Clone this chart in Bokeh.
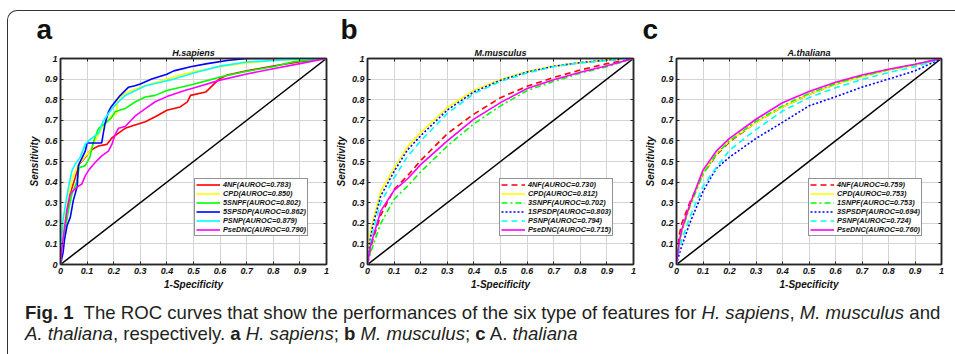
from bokeh.plotting import figure
from bokeh.layouts import row, column
from bokeh.models import Div, Legend, LegendItem, LinearAxis, FixedTicker, Range1d
from bokeh.embed import file_html
from bokeh.resources import INLINE

# ---------------- data ----------------
TICKS = [0, 0.1, 0.2, 0.3, 0.4, 0.5, 0.6, 0.7, 0.8, 0.9, 1]
TICK_LABELS = ["0", "0.1", "0.2", "0.3", "0.4", "0.5", "0.6", "0.7", "0.8", "0.9", "1"]

# Panel a: H.sapiens
a_4nf_x = [0, 0, 0.006, 0.018, 0.036, 0.055, 0.07, 0.093, 0.11, 0.13, 0.143, 0.174, 0.193, 0.218, 0.243, 0.28, 0.319, 0.356, 0.4, 0.45, 0.477, 0.489, 0.546, 0.596, 0.627, 0.7, 0.8, 0.9, 1]
a_4nf_y = [0, 0.14, 0.16, 0.2, 0.343, 0.42, 0.487, 0.52, 0.55, 0.567, 0.575, 0.583, 0.614, 0.638, 0.661, 0.677, 0.693, 0.717, 0.749, 0.765, 0.789, 0.821, 0.837, 0.9, 0.92, 0.94, 0.964, 0.985, 1]
a_cpd_x = [0, 0.004, 0.015, 0.03, 0.045, 0.065, 0.09, 0.11, 0.13, 0.16, 0.19, 0.21, 0.215, 0.24, 0.3, 0.35, 0.4, 0.45, 0.5, 0.6, 0.7, 0.8, 0.9, 1]
a_cpd_y = [0, 0.1, 0.2, 0.33, 0.42, 0.48, 0.52, 0.55, 0.6, 0.67, 0.72, 0.73, 0.8, 0.83, 0.86, 0.88, 0.9, 0.92, 0.935, 0.96, 0.978, 0.99, 0.997, 1]
a_5snpf_x = [0, 0.004, 0.018, 0.03, 0.043, 0.061, 0.07, 0.093, 0.11, 0.125, 0.143, 0.168, 0.19, 0.205, 0.243, 0.28, 0.319, 0.356, 0.4, 0.452, 0.5, 0.558, 0.6, 0.7, 0.8, 0.88, 1]
a_5snpf_y = [0, 0.09, 0.17, 0.265, 0.343, 0.4, 0.47, 0.48, 0.52, 0.6, 0.661, 0.685, 0.71, 0.741, 0.757, 0.789, 0.813, 0.821, 0.845, 0.86, 0.875, 0.895, 0.91, 0.938, 0.96, 0.985, 1]
a_5spsdp_x = [0, 0.01, 0.015, 0.025, 0.037, 0.048, 0.063, 0.067, 0.093, 0.1, 0.155, 0.16, 0.168, 0.18, 0.19, 0.224, 0.255, 0.28, 0.3, 0.343, 0.4, 0.426, 0.489, 0.552, 0.627, 0.7, 1]
a_5spsdp_y = [0, 0.06, 0.12, 0.19, 0.23, 0.31, 0.38, 0.48, 0.55, 0.59, 0.59, 0.63, 0.686, 0.74, 0.765, 0.82, 0.86, 0.868, 0.876, 0.9, 0.924, 0.94, 0.96, 0.975, 0.99, 1, 1]
a_psnp_x = [0, 0.004, 0.0075, 0.0175, 0.03, 0.043, 0.055, 0.074, 0.093, 0.11, 0.143, 0.16, 0.18, 0.205, 0.243, 0.28, 0.319, 0.376, 0.426, 0.5, 0.6, 0.7, 0.8, 0.9, 1]
a_psnp_y = [0, 0.12, 0.2, 0.28, 0.375, 0.455, 0.487, 0.52, 0.583, 0.606, 0.637, 0.694, 0.733, 0.773, 0.82, 0.843, 0.868, 0.885, 0.9, 0.93, 0.963, 0.983, 0.99, 0.998, 1]
a_psednc_x = [0, 0.004, 0.011, 0.024, 0.036, 0.061, 0.08, 0.093, 0.105, 0.13, 0.155, 0.18, 0.193, 0.205, 0.218, 0.243, 0.28, 0.319, 0.356, 0.4, 0.47, 0.5, 0.6, 0.7, 0.8, 0.9, 1]
a_psednc_y = [0, 0.06, 0.138, 0.265, 0.343, 0.375, 0.39, 0.43, 0.456, 0.495, 0.527, 0.55, 0.583, 0.63, 0.661, 0.67, 0.72, 0.757, 0.79, 0.815, 0.846, 0.857, 0.895, 0.925, 0.95, 0.975, 1]

# Panel b: M.musculus
b_fpr = [0, 0.01, 0.02, 0.05, 0.1, 0.15, 0.2, 0.3, 0.4, 0.5, 0.6, 0.7, 0.8, 0.9, 1]
b_4nf = [0, 0.07, 0.12, 0.24, 0.365, 0.43, 0.505, 0.635, 0.73, 0.81, 0.865, 0.908, 0.944, 0.975, 1]
b_cpd = [0, 0.15, 0.21, 0.357, 0.468, 0.571, 0.64, 0.762, 0.846, 0.898, 0.937, 0.963, 0.98, 0.992, 1]
b_3snpf = [0, 0.05, 0.09, 0.2, 0.317, 0.38, 0.45, 0.575, 0.683, 0.77, 0.844, 0.889, 0.929, 0.96, 1]
b_1spsdp = [0, 0.12, 0.19, 0.333, 0.452, 0.556, 0.625, 0.75, 0.838, 0.894, 0.934, 0.962, 0.98, 0.992, 1]
b_psnp = [0, 0.1, 0.16, 0.3, 0.42, 0.524, 0.6, 0.733, 0.829, 0.889, 0.93, 0.96, 0.978, 0.99, 1]
b_psednc = [0, 0.08, 0.13, 0.26, 0.36, 0.415, 0.485, 0.6, 0.706, 0.786, 0.854, 0.897, 0.933, 0.965, 1]

# Panel c: A.thaliana
c_fpr = [0, 0.01, 0.02, 0.05, 0.1, 0.15, 0.2, 0.3, 0.4, 0.5, 0.6, 0.7, 0.8, 0.9, 1]
c_4nf = [0, 0.14, 0.2, 0.3, 0.44, 0.53, 0.595, 0.69, 0.765, 0.825, 0.875, 0.915, 0.945, 0.97, 1]
c_cpd = [0, 0.1, 0.16, 0.28, 0.445, 0.535, 0.6, 0.69, 0.765, 0.825, 0.875, 0.912, 0.943, 0.968, 1]
c_1snpf = [0, 0.1, 0.16, 0.28, 0.44, 0.535, 0.6, 0.695, 0.77, 0.83, 0.878, 0.915, 0.945, 0.97, 1]
c_3spsdp = [0, 0.05, 0.09, 0.2, 0.355, 0.466, 0.521, 0.612, 0.69, 0.77, 0.814, 0.861, 0.9, 0.94, 1]
c_psnp = [0, 0.07, 0.12, 0.23, 0.38, 0.47, 0.555, 0.655, 0.745, 0.81, 0.858, 0.898, 0.932, 0.96, 1]
c_psednc = [0, 0.11, 0.17, 0.29, 0.458, 0.55, 0.612, 0.705, 0.785, 0.84, 0.885, 0.92, 0.948, 0.972, 1]

DIAG = [0, 1]

a_labels = ["4NF(AUROC=0.783)", "CPD(AUROC=0.850)", "5SNPF(AUROC=0.802)",
            "5SPSDP(AUROC=0.862)", "PSNP(AUROC=0.879)", "PseDNC(AUROC=0.790)"]
b_labels = ["4NF(AUROC=0.730)", "CPD(AUROC=0.812)", "3SNPF(AUROC=0.702)",
            "1SPSDP(AUROC=0.803)", "PSNP(AUROC=0.794)", "PseDNC(AUROC=0.715)"]
c_labels = ["4NF(AUROC=0.759)", "CPD(AUROC=0.753)", "1SNPF(AUROC=0.753)",
            "3SPSDP(AUROC=0.694)", "PSNP(AUROC=0.724)", "PseDNC(AUROC=0.760)"]

COLORS = ["#ff0000", "#ffff00", "#00ff00", "#0000ff", "#00ffff", "#ff00ff"]
DASH_SOLID = ["solid"] * 6
DASH_STYLED = ["6 4", "solid", "6 3 2 3", "2 2", "6 4", "solid"]

FONT = "Liberation Sans"
AXC = "#262626"


def make_panel(title, letter, letter_offset, series, labels, dashes, width, height,
               ml, mr, mt, mb, legend_loc):
    p = figure(width=width, height=height, x_range=Range1d(0, 1), y_range=Range1d(0, 1),
               output_backend="svg", toolbar_location=None,
               min_border_left=ml, min_border_right=mr, min_border_top=mt, min_border_bottom=mb,
               background_fill_color="white", border_fill_color=None)
    # outer title: panel letter
    p.title.text = letter
    p.title.align = "left"
    p.title.offset = letter_offset
    p.title.text_font = FONT
    p.title.text_font_size = "28px"
    p.title.text_font_style = "bold"
    p.title.text_color = "#111111"
    p.title.standoff = 0

    overrides = {t: lab for t, lab in zip(TICKS, TICK_LABELS)}
    for ax in (p.xaxis[0], p.yaxis[0]):
        ax.ticker = FixedTicker(ticks=TICKS)
        ax.major_label_overrides = overrides
        ax.major_label_text_font = FONT
        ax.major_label_text_font_size = "9px"
        ax.major_label_text_font_style = "bold italic"
        ax.major_label_text_color = "#111111"
        ax.axis_label_text_font = FONT
        ax.axis_label_text_font_size = "10px"
        ax.axis_label_text_font_style = "bold italic"
        ax.axis_label_text_color = "#111111"
        ax.axis_line_color = AXC
        ax.axis_line_width = 1.5
        ax.major_tick_in = 3
        ax.major_tick_out = 0
        ax.major_tick_line_color = AXC
        ax.minor_tick_line_color = None
        ax.major_label_standoff = 3
        ax.axis_label_standoff = 2
    p.xaxis.axis_label = "1-Specificity"
    p.yaxis.axis_label = "Sensitivity"

    # box ticks on the top and right edges (no tick labels); the top one carries the species title
    for side in ("above", "right"):
        ax = LinearAxis(ticker=FixedTicker(ticks=TICKS), major_label_text_font_size="1px",
                        major_label_text_color=None,
                        major_tick_in=3, major_tick_out=0, minor_tick_line_color=None,
                        axis_line_color=AXC, axis_line_width=1.5, major_tick_line_color=AXC,
                        major_label_standoff=0)
        if side == "above":
            ax.axis_label = title
            ax.axis_label_text_font = FONT
            ax.axis_label_text_font_size = "9px"
            ax.axis_label_text_font_style = "bold italic"
            ax.axis_label_text_color = "#111111"
            ax.axis_label_standoff = 1
        p.add_layout(ax, side)

    p.grid.ticker = FixedTicker(ticks=TICKS)
    p.grid.grid_line_color = "#d4d4d4"
    p.grid.grid_line_width = 1
    p.outline_line_color = AXC
    p.outline_line_width = 1.5

    p.line(DIAG, DIAG, line_color="black", line_width=1.5)

    items = []
    for (xs, ys), lab, col, dash in zip(series, labels, COLORS, dashes):
        r = p.line(xs, ys, line_color=col, line_width=1.6, line_dash=dash)
        items.append(LegendItem(label=lab, renderers=[r]))

    leg = Legend(items=items, location=legend_loc)
    leg.label_text_font = FONT
    leg.label_text_font_size = "7.3px"
    leg.label_text_font_style = "bold italic"
    leg.label_text_color = "#111111"
    leg.label_text_line_height = 1.0
    leg.glyph_width = 24
    leg.glyph_height = 7
    leg.label_height = 7
    leg.label_standoff = 3
    leg.spacing = -1
    leg.padding = 1
    leg.margin = 0
    leg.border_line_color = AXC
    leg.border_line_width = 1.5
    leg.background_fill_alpha = 1
    p.add_layout(leg)
    return p


pa = make_panel("H.sapiens", "a", -24,
                [(a_4nf_x, a_4nf_y), (a_cpd_x, a_cpd_y), (a_5snpf_x, a_5snpf_y),
                 (a_5spsdp_x, a_5spsdp_y), (a_psnp_x, a_psnp_y), (a_psednc_x, a_psednc_y)],
                a_labels, DASH_SOLID, 324, 281, 52, 6, 45, 26, (134, 28))
pb = make_panel("M.musculus", "b", -27,
                [(b_fpr, s) for s in (b_4nf, b_cpd, b_3snpf, b_1spsdp, b_psnp, b_psednc)],
                b_labels, DASH_STYLED, 309, 281, 35, 8, 46, 25, (132, 28))
pc = make_panel("A.thaliana", "c", -34,
                [(c_fpr, s) for s in (c_4nf, c_cpd, c_1snpf, c_3spsdp, c_psnp, c_psednc)],
                c_labels, DASH_STYLED, 306, 281, 33, 6, 43, 27, (132, 28))

caption_html = ('<b>Fig. 1</b>&nbsp; The ROC curves that show the performances of the six type of '
                'features for <i>H. sapiens</i>, <i>M. musculus</i> and<br>'
                '<i>A. thaliana</i>, respectively. <b>a</b> <i>H. sapiens</i>; '
                '<b>b</b> <i>M. musculus</i>; <b>c</b> A. <i>thaliana</i>')
cap = Div(text=caption_html, width=947, height=62,
          styles={"font-family": "Liberation Sans", "font-size": "18.6px", "line-height": "21px",
                  "color": "#231f20", "padding-left": "12px", "padding-top": "5px",
                  "white-space": "nowrap"})

layout = column(row(pa, pb, pc), cap, margin=(10, 0, 0, 7),
                styles={"border-top": "1px solid #333", "border-left": "1px solid #333",
                        "border-top-left-radius": "10px"})

open("out.html", "w").write(file_html(layout, INLINE))
